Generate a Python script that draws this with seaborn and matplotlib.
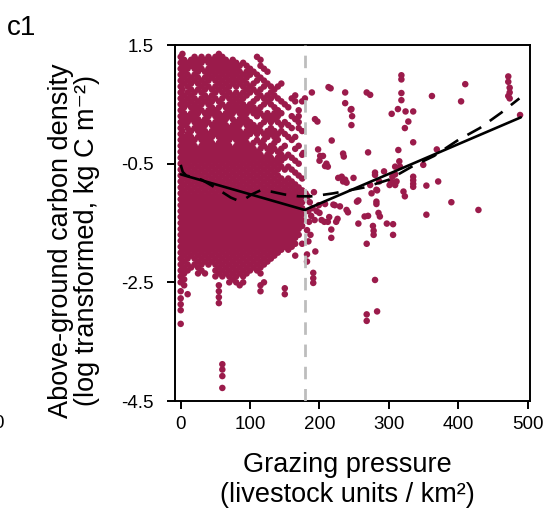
import numpy as np
import pandas as pd
import matplotlib
matplotlib.use("Agg")
import matplotlib.pyplot as plt
import seaborn as sns

# ---------------- data ----------------
# dense cloud at low grazing pressure: x position -> y values
dense_columns = [
    (0, "1.3 1.2 1.1 1.0 0.9 0.8 0.7 0.6 0.5 0.4 0.3 0.2 0.1 0.0 -0.1 -0.2 -0.3 -0.4 -0.5 -0.6 -0.7 -0.8 -0.9 -1.0 -1.1 -1.2 -1.3 -1.4 -1.5 -1.6 -1.7 -1.8 -1.9 -2.0 -2.1 -2.2 -2.3 -2.4 -2.5 -2.65 -2.77 -2.87 -2.97 -3.2"),
    (2.5, "1.35 1.25 1.15 1.05 0.95 0.85 0.75 0.65 0.55 0.45 0.35 0.25 0.15 0.05 -0.05 -0.15 -0.25 -0.35 -0.45 -0.55 -0.65 -0.75 -0.85 -0.95 -1.05 -1.15 -1.25 -1.35 -1.45 -1.55 -1.65 -1.75 -1.85 -1.95 -2.05 -2.15 -2.25 -2.35 -2.45"),
    (5, "1.25 1.15 1.05 0.95 0.85 0.65 0.55 0.45 0.35 0.25 0.15 -0.05 -0.15 -0.25 -0.35 -0.45 -0.55 -0.65 -0.75 -0.85 -0.95 -1.05 -1.15 -1.25 -1.35 -1.45 -1.55 -1.65 -1.75 -1.85 -1.95 -2.05 -2.15 -2.25 -2.35 -2.45 -2.55"),
    (10, "1.2 1.1 1.0 0.9 0.8 0.7 0.6 0.5 0.3 0.2 0.1 0.0 -0.1 -0.2 -0.3 -0.4 -0.5 -0.6 -0.7 -0.8 -0.9 -1.0 -1.1 -1.2 -1.3 -1.4 -1.5 -1.6 -1.7 -1.8 -1.9 -2.0 -2.1 -2.2 -2.3 -2.7"),
    (15, "1.25 1.15 0.95 0.85 0.75 0.65 0.55 0.45 0.35 0.25 0.05 -0.05 -0.15 -0.25 -0.35 -0.45 -0.55 -0.65 -0.75 -0.85 -0.95 -1.05 -1.15 -1.25 -1.35 -1.45 -1.55 -1.65 -1.75 -1.85 -1.95 -2.05 -2.25"),
    (20, "1.3 1.2 1.1 1.0 0.9 0.7 0.6 0.5 0.4 0.3 0.2 0.1 -0.1 -0.2 -0.3 -0.4 -0.5 -0.6 -0.7 -0.8 -0.9 -1.0 -1.1 -1.2 -1.3 -1.4 -1.5 -1.6 -1.7 -1.8 -1.9 -2.0 -2.1 -2.2"),
    (25, "1.25 1.15 1.05 0.95 0.85 0.75 0.55 0.45 0.35 0.25 0.15 0.05 -0.05 -0.25 -0.35 -0.45 -0.55 -0.65 -0.75 -0.85 -0.95 -1.05 -1.15 -1.25 -1.35 -1.45 -1.55 -1.65 -1.75 -1.85 -1.95 -2.05 -2.15 -2.25 -2.35"),
    (30, "1.3 1.2 1.1 0.9 0.8 0.7 0.6 0.5 0.4 0.2 0.1 0.0 -0.1 -0.2 -0.3 -0.4 -0.5 -0.6 -0.7 -0.8 -0.9 -1.0 -1.1 -1.2 -1.3 -1.4 -1.5 -1.6 -1.7 -1.8 -1.9 -2.0 -2.1 -2.2 -2.3"),
    (35, "1.25 1.05 0.95 0.85 0.75 0.65 0.55 0.35 0.25 0.15 0.05 -0.05 -0.15 -0.25 -0.35 -0.45 -0.55 -0.65 -0.75 -0.85 -0.95 -1.05 -1.15 -1.25 -1.35 -1.45 -1.55 -1.65 -1.75 -1.85 -1.95 -2.05 -2.15 -2.35"),
    (40, "1.3 1.2 1.1 1.0 0.9 0.8 0.6 0.5 0.4 0.3 0.2 0.0 -0.1 -0.2 -0.3 -0.4 -0.5 -0.6 -0.7 -0.8 -0.9 -1.0 -1.1 -1.2 -1.3 -1.4 -1.5 -1.6 -1.7 -1.8 -1.9 -2.0 -2.1 -2.2"),
    (45, "1.25 1.15 1.05 0.95 0.75 0.65 0.55 0.45 0.35 0.15 0.05 -0.05 -0.15 -0.25 -0.35 -0.45 -0.55 -0.65 -0.75 -0.85 -0.95 -1.05 -1.15 -1.25 -1.35 -1.45 -1.55 -1.65 -1.75 -1.85 -1.95 -2.05 -2.15"),
    (50, "1.3 1.2 1.1 1.0 0.9 0.8 0.7 0.6 0.4 0.3 0.2 0.1 0.0 -0.2 -0.3 -0.4 -0.5 -0.6 -0.7 -0.8 -0.9 -1.0 -1.1 -1.2 -1.3 -1.4 -1.5 -1.6 -1.7 -1.8 -1.9 -2.0 -2.1 -2.2 -2.3 -2.4"),
    (55, "1.35 1.25 1.15 1.05 0.95 0.85 0.75 0.55 0.45 0.35 0.25 0.15 0.05 -0.05 -0.15 -0.25 -0.35 -0.45 -0.55 -0.65 -0.75 -0.85 -0.95 -1.05 -1.15 -1.25 -1.35 -1.45 -1.55 -1.65 -1.75 -1.85 -1.95 -2.05 -2.15 -2.25 -2.35 -2.55 -2.65 -2.75 -2.85"),
    (60, "1.3 1.2 1.1 1.0 0.9 0.8 0.7 0.6 0.5 0.3 0.2 0.1 0.0 -0.1 -0.2 -0.3 -0.4 -0.5 -0.6 -0.7 -0.8 -0.9 -1.0 -1.1 -1.2 -1.3 -1.4 -1.5 -1.6 -1.7 -1.8 -1.9 -2.0 -2.1 -2.2 -2.3 -2.4 -3.88 -3.97 -4.08 -4.28"),
    (65, "1.25 1.15 1.05 0.95 0.85 0.75 0.65 0.45 0.35 0.25 0.15 0.05 -0.05 -0.15 -0.25 -0.35 -0.45 -0.55 -0.65 -0.75 -0.85 -0.95 -1.05 -1.15 -1.25 -1.35 -1.45 -1.55 -1.65 -1.75 -1.85 -1.95 -2.05 -2.15 -2.25 -2.35"),
    (70, "1.2 1.1 1.0 0.9 0.8 0.7 0.6 0.5 0.4 0.3 0.1 0.0 -0.1 -0.2 -0.3 -0.4 -0.5 -0.6 -0.7 -0.8 -0.9 -1.0 -1.1 -1.2 -1.3 -1.4 -1.5 -1.6 -1.7 -1.8 -1.9 -2.0 -2.1 -2.2 -2.3 -2.4 -2.5"),
    (75, "1.25 1.15 1.05 0.95 0.85 0.65 0.55 0.45 0.35 0.25 0.15 0.05 -0.05 -0.25 -0.35 -0.45 -0.55 -0.65 -0.75 -0.85 -0.95 -1.05 -1.15 -1.25 -1.35 -1.45 -1.55 -1.65 -1.75 -1.85 -1.95 -2.05 -2.15 -2.25 -2.35 -2.45"),
    (80, "1.2 1.1 1.0 0.9 0.8 0.7 0.6 0.5 0.4 0.2 0.1 0.0 -0.1 -0.2 -0.3 -0.4 -0.5 -0.6 -0.7 -0.8 -0.9 -1.0 -1.1 -1.2 -1.3 -1.4 -1.5 -1.6 -1.7 -1.8 -1.9 -2.0 -2.1 -2.2 -2.3 -2.4 -2.5"),
    (85, "1.15 1.05 0.95 0.85 0.65 0.55 0.45 0.35 0.25 0.15 0.05 -0.05 -0.15 -0.25 -0.35 -0.45 -0.55 -0.65 -0.75 -0.85 -0.95 -1.05 -1.15 -1.25 -1.35 -1.45 -1.55 -1.65 -1.75 -1.85 -1.95 -2.05 -2.15 -2.25 -2.35 -2.55"),
    (90, "1.2 1.0 0.9 0.8 0.7 0.6 0.5 0.4 0.3 0.2 0.0 -0.1 -0.2 -0.3 -0.4 -0.5 -0.6 -0.7 -0.8 -0.9 -1.0 -1.1 -1.2 -1.3 -1.4 -1.5 -1.6 -1.7 -1.8 -1.9 -2.0 -2.1 -2.2 -2.3 -2.4 -2.5"),
    (95, "1.15 1.05 0.95 0.85 0.75 0.65 0.45 0.35 0.25 0.15 0.05 -0.05 -0.15 -0.25 -0.35 -0.45 -0.55 -0.65 -0.75 -0.85 -0.95 -1.05 -1.15 -1.25 -1.35 -1.45 -1.55 -1.65 -1.75 -1.85 -1.95 -2.05 -2.15 -2.25 -2.35"),
    (100, "1.1 1.0 0.8 0.7 0.5 0.4 0.2 0.1 0.0 -0.2 -0.3 -0.4 -0.5 -0.6 -0.7 -0.8 -0.9 -1.0 -1.1 -1.2 -1.3 -1.4 -1.5 -1.6 -1.7 -1.8 -1.9 -2.0 -2.1 -2.2 -2.3"),
    (105, "1.05 0.85 0.75 0.55 0.45 0.35 0.15 0.05 -0.15 -0.25 -0.35 -0.45 -0.55 -0.65 -0.75 -0.85 -0.95 -1.05 -1.15 -1.25 -1.35 -1.45 -1.55 -1.65 -1.75 -1.85 -1.95 -2.05 -2.15 -2.25"),
    (110, "1.3 1.0 0.9 0.7 0.6 0.4 0.3 0.1 0.0 -0.1 -0.3 -0.4 -0.5 -0.6 -0.7 -0.8 -0.9 -1.0 -1.1 -1.2 -1.3 -1.4 -1.5 -1.6 -1.7 -1.8 -1.9 -2.0 -2.1 -2.2 -2.3"),
    (115, "1.25 1.15 0.95 0.75 0.65 0.45 0.35 0.15 0.05 -0.15 -0.25 -0.35 -0.45 -0.55 -0.65 -0.75 -0.85 -0.95 -1.05 -1.15 -1.25 -1.35 -1.45 -1.55 -1.65 -1.75 -1.85 -1.95 -2.05 -2.15 -2.25 -2.35 -2.55 -2.65"),
    (120, "1.1 0.9 0.8 0.6 0.5 0.3 0.2 0.0 -0.1 -0.2 -0.4 -0.5 -0.6 -0.7 -0.8 -0.9 -1.0 -1.1 -1.2 -1.3 -1.4 -1.5 -1.6 -1.7 -1.8 -1.9 -2.0 -2.1 -2.2 -2.5"),
    (125, "1.05 0.85 0.65 0.55 0.35 0.25 0.05 -0.05 -0.25 -0.35 -0.45 -0.55 -0.65 -0.75 -0.85 -0.95 -1.05 -1.15 -1.25 -1.35 -1.45 -1.55 -1.65 -1.75 -1.85 -1.95 -2.05 -2.15"),
    (130, "0.8 0.7 0.6 0.5 0.3 0.2 0.1 0.0 -0.2 -0.3 -0.4 -0.5 -0.6 -0.7 -0.8 -0.9 -1.0 -1.1 -1.2 -1.3 -1.4 -1.5 -1.6 -1.7 -1.8 -1.9 -2.0 -2.1"),
    (135, "0.75 0.65 0.45 0.35 0.25 0.05 -0.05 -0.15 -0.25 -0.45 -0.55 -0.65 -0.75 -0.85 -0.95 -1.05 -1.15 -1.25 -1.35 -1.45 -1.55 -1.65 -1.75 -1.85 -1.95 -2.05"),
    (140, "0.8 0.6 0.4 0.3 0.2 0.0 -0.1 -0.3 -0.4 -0.5 -0.6 -0.7 -0.8 -0.9 -1.0 -1.1 -1.2 -1.3 -1.4 -1.5 -1.6 -1.7 -1.8 -1.9 -2.0"),
    (145, "0.85 0.55 0.35 0.15 0.05 -0.25 -0.35 -0.45 -0.55 -0.75 -0.85 -0.95 -1.05 -1.15 -1.25 -1.35 -1.45 -1.55 -1.65 -1.75 -1.85 -1.95"),
    (150, "0.5 0.2 0.0 -0.2 -0.4 -0.6 -0.8 -0.9 -1.0 -1.1 -1.2 -1.3 -1.4 -1.5 -1.6 -1.7 -1.8 -1.9 -2.6 -2.7"),
    (155, "0.45 0.15 -0.05 -0.35 -0.55 -0.75 -0.85 -0.95 -1.05 -1.15 -1.25 -1.35 -1.45 -1.55 -1.65 -1.75 -1.85 -1.95"),
    (160, "0.6 0.3 0.1 -0.1 -0.4 -0.6 -0.8 -0.9 -1.0 -1.1 -1.2 -1.3 -1.4 -1.5 -1.6 -1.7 -1.8 -1.9"),
    (165, "0.65 0.55 0.25 -0.05 -0.25 -0.45 -0.65 -0.85 -0.95 -1.05 -1.15 -1.25 -1.35 -1.45 -1.55 -1.65 -1.75 -1.85 -2.05"),
    (170, "0.4 0.3 0.2 0.1 -0.2 -0.5 -0.7 -0.9 -1.0 -1.1 -1.2 -1.3 -1.4 -1.5 -1.6 -1.7"),
    (175, "0.55 0.05 -0.35 -0.75 -0.95 -1.05 -1.15 -1.25 -1.35 -1.45 -1.55 -1.85"),
]

# scattered sites at higher grazing pressure
sparse_x = [179, 189, 193.5, 213, 216, 237, 237, 246, 247, 246, 268, 273, 217.6, 198, 201, 205,
            234, 270, 208, 227, 232, 237, 239, 234, 249, 280, 273, 282, 282, 282, 275, 256, 254,
            239, 208, 220, 222, 229.5, 200, 203, 207, 212, 214, 224, 226, 217, 217, 256, 270,
            277, 278, 278, 285, 287, 297, 306, 306, 268, 280, 301, 303, 305, 309, 311, 305, 309,
            309, 313.6, 315, 316, 321, 323, 335, 335, 335, 335, 349.5, 354, 371, 390, 354, 429,
            369, 304, 313, 324, 335, 328, 323, 335, 318, 318, 318, 318, 362, 410, 404, 472, 472,
            474, 474, 472, 474, 489, 183, 186, 190, 184, 188, 193, 196, 199, 185, 182, 184, 194,
            182, 182, 191, 191, 191, 187, 192, 268, 268, 283, 197, 200, 210, 212, 245, 235, 280,
            286, 283, 293, 241, 265, 180, 176.7]
sparse_y = [0.60, 0.70, 0.25, 0.79, 0.77, 0.70, 0.52, 0.42, 0.30, 0.15, 0.70, 0.66, -0.11, -0.26, -0.37, -0.37,
            -0.33, -0.31, -0.54, -0.74, -0.72, -0.77, -0.82, -0.80, -0.74, -0.65, -0.86, -0.94, -1.14, -1.18, -1.00, -1.12, -1.14,
            -1.28, -1.18, -1.19, -1.20, -1.22, -1.33, -1.45, -1.48, -1.48, -1.40, -1.48, -1.43, -1.61, -1.75, -1.51, -1.38,
            -1.55, -1.63, -1.70, -1.33, -1.39, -1.51, -1.52, -1.70, -1.85, -2.46, -0.86, -0.80, -0.82, -0.86, -0.80, -0.72, -0.68,
            -0.55, -0.27, -0.46, -0.55, -0.97, -1.05, -0.72, -0.78, -0.84, -0.89, -0.52, -0.87, -0.80, -1.15, -1.36, -1.28,
            -0.26, 0.34, 0.42, 0.38, 0.38, 0.21, 0.10, -0.14, 0.99, 0.92, 0.69, 0.57, 0.64, 0.84, 0.55, 0.97, 0.88,
            0.78, 0.70, 0.64, 0.60, 0.32, -1.05, -1.15, -1.25, -1.30, -1.38, -1.45, -1.30, -1.20, -1.48, -1.62, -1.81, -1.98,
            -2.03, -2.15, -2.34, -2.43, -2.51, -1.70, -0.98, -3.04, -3.15, -2.99, 0.21, -0.45, -0.50, -0.55, 0.41, -0.38, -0.69,
            -0.80, -0.95, -0.63, -1.32, -1.39, -1.00, -0.32]

# fitted relationships
seg_x = [0, 178.6, 490]          # segmented regression (solid)
seg_y = [-0.68, -1.28, 0.28]
smooth_x = [0, 3, 8, 18, 30, 45, 60, 72, 82, 92, 102, 115, 130, 150, 170, 190, 220,
            265, 300, 333, 365, 400, 431, 462, 488]
smooth_y = [-0.52, -0.64, -0.70, -0.73, -0.77, -0.87, -0.98, -1.07, -1.12, -1.10, -1.02,
            -0.95, -0.97, -1.02, -1.05, -1.05, -1.00, -0.90, -0.77, -0.55, -0.37, -0.10,
            0.10, 0.36, 0.60]
breakpoint_x = 178.6

x_ticks = [0, 100, 200, 300, 400, 500]
y_ticks = [1.5, -0.5, -2.5, -4.5]
y_ticklabels = ["1.5", "-0.5", "-2.5", "-4.5"]

# ---------------- build table ----------------
xs, ys = [], []
for cx, col in dense_columns:
    vals = [float(v) for v in col.split()]
    xs += [cx] * len(vals)
    ys += vals
xs += sparse_x
ys += sparse_y
df = pd.DataFrame({"grazing": xs, "carbon": ys})

# ---------------- plot ----------------
sns.set_style("ticks")
plt.rcParams["font.family"] = ["Liberation Sans", "DejaVu Sans"]
for key in ["text.color", "axes.labelcolor", "xtick.color", "ytick.color", "axes.edgecolor"]:
    plt.rcParams[key] = "black"
plt.rcParams["axes.linewidth"] = 1.4

fig = plt.figure(figsize=(5.47, 5.18), dpi=100)
ax = fig.add_axes([175 / 547, 117 / 518, 355 / 547, 356 / 518])

point_col = "#9B1B4B"
sns.scatterplot(data=df, x="grazing", y="carbon", ax=ax, color=point_col,
                s=22, linewidth=0, edgecolor="none", zorder=2, legend=False)

ax.axvline(breakpoint_x, color="#BDBDBD", lw=2.0, ls=(0, (4.5, 3.5)), zorder=3)

sns.lineplot(x=seg_x, y=seg_y, ax=ax, color="black", lw=1.9, sort=False,
             estimator=None, zorder=4)
sns.lineplot(x=smooth_x, y=smooth_y, ax=ax, color="black", lw=1.9, sort=False,
             estimator=None, zorder=4, linestyle=(0, (6, 4)))

ax.set_xlim(-8.2, 503.3)
ax.set_ylim(-4.5, 1.5)
ax.set_xticks(x_ticks)
ax.set_xticklabels([str(t) for t in x_ticks])
ax.set_yticks(y_ticks)
ax.set_yticklabels(y_ticklabels)
ax.tick_params(axis="both", direction="out", length=6, width=1.4,
               labelsize=13.5, colors="black")
ax.tick_params(axis="x", pad=5)
ax.tick_params(axis="y", pad=9.5)
for sp in ax.spines.values():
    sp.set_visible(True)
    sp.set_color("black")

ax.set_xlabel("Grazing pressure\n(livestock units / km\u00b2)", fontsize=19.5,
              linespacing=1.2)
ax.set_ylabel("Above-ground carbon density\n(log transformed, kg C m\u207b\u00b2)",
              fontsize=19.5, linespacing=1.0)
ax.xaxis.set_label_coords(0.485, -0.142)
ax.yaxis.set_label_coords(-0.21, 0.45)

fig.text(7 / 547, 1 - 35 / 518, "c1", fontsize=20, ha="left", va="baseline")
fig.text(-2 / 547, 1 - 423 / 518, "0", fontsize=13.5, ha="center", va="center")

fig.savefig("out.png", dpi=100)
